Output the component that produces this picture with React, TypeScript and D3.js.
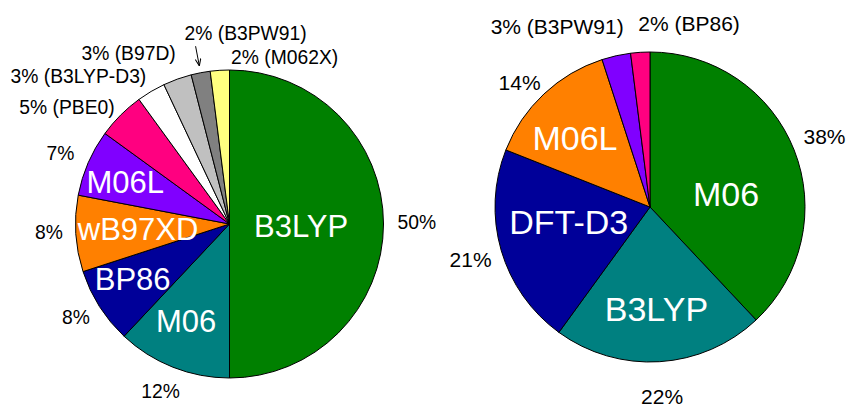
import React, { useEffect, useRef } from "react";
import * as d3 from "d3";

// left pie: all calculations
const leftNames = ["B3LYP", "M06", "BP86", "wB97XD", "M06L", "PBE0", "B3LYP-D3", "B97D", "B3PW91", "M062X"];
const leftValues = [50, 12, 8, 8, 7, 5, 3, 3, 2, 2];
const leftColors = ["#008000", "#008080", "#000099", "#FF8000", "#8000FF", "#FF0080", "#FFFFFF", "#C0C0C0", "#808080", "#FFFF80"];
const leftNameInside = [true, true, true, true, true, false, false, false, false, false];

// right pie: dispersion-corrected subset
const rightNames = ["M06", "B3LYP", "DFT-D3", "M06L", "B3PW91", "BP86"];
const rightValues = [38, 22, 21, 14, 3, 2];
const rightColors = ["#008000", "#008080", "#000099", "#FF8000", "#8000FF", "#FF0080"];
const rightNameInside = [true, true, true, true, false, false];

const FONT = "'Liberation Sans', Arial, Helvetica, sans-serif";

type PieCfg = {
  names: string[];
  values: number[];
  colors: string[];
  inside: boolean[];
  cx: number;
  cy: number;
  r: number;
  outFont: number;
  inFont: number;
  gap: number;
  outNudge: number[][];
  inNudge: number[][];
  arrow: boolean[];
};

const pies: PieCfg[] = [
  {
    names: leftNames, values: leftValues, colors: leftColors, inside: leftNameInside,
    cx: 229.5, cy: 224, r: 154, outFont: 19.3, inFont: 31, gap: 14,
    outNudge: [[0, -2], [0, 2], [0, -2], [1, -3], [-2, 0], [-10, 9], [-31, 5], [-28, -4], [59, -16], [69, 10]],
    inNudge: [[-30, 2], [-6, 2], [-11, 0], [10, -1], [-11, -2]],
    arrow: [false, false, false, false, false, false, false, false, true, false],
  },
  {
    names: rightNames, values: rightValues, colors: rightColors, inside: rightNameInside,
    cx: 650, cy: 207, r: 155, outFont: 21, inFont: 34, gap: 16,
    outNudge: [[-4, -4], [0, 8], [5, 2], [1, 8], [-41, -3], [53, -2]],
    inNudge: [[-19, 24], [0, 0], [17, -14], [-5, 5]],
    arrow: [false, false, false, false, false, false],
  },
];

export default function App() {
  const ref = useRef<SVGSVGElement>(null);

  useEffect(() => {
    const svg = d3.select(ref.current);
    svg.selectAll("*").remove();

    svg.append("defs").append("marker")
      .attr("id", "arr")
      .attr("viewBox", "0 0 10 10")
      .attr("refX", 10).attr("refY", 5)
      .attr("markerWidth", 7).attr("markerHeight", 7)
      .attr("orient", "auto")
      .append("path")
      .attr("d", "M0,1 L10,5 L0,9")
      .attr("fill", "none").attr("stroke", "#000").attr("stroke-width", 1.5);

    pies.forEach((p) => {
      const total = d3.sum(p.values);
      const arcs = d3.pie<number>().sort(null).value((d) => d)(p.values);
      const arc = d3.arc<d3.PieArcDatum<number>>().innerRadius(0).outerRadius(p.r);

      const g = svg.append("g");

      g.selectAll("path.slice")
        .data(arcs)
        .join("path")
        .attr("class", "slice")
        .attr("transform", `translate(${p.cx},${p.cy})`)
        .attr("d", arc)
        .attr("fill", (_, i) => p.colors[i])
        .attr("stroke", "#000")
        .attr("stroke-width", 1);

      // names inside slices
      let k = 0;
      arcs.forEach((a, i) => {
        if (!p.inside[i]) return;
        const mid = (a.startAngle + a.endAngle) / 2;
        const rr = p.r * 0.66;
        const nd = p.inNudge[k++] || [0, 0];
        g.append("text")
          .attr("x", p.cx + Math.sin(mid) * rr + nd[0])
          .attr("y", p.cy - Math.cos(mid) * rr + nd[1] + 0.358 * p.inFont)
          .attr("text-anchor", "middle")
          .attr("font-family", FONT)
          .attr("font-size", p.inFont)
          .attr("fill", "#fff")
          .text(p.names[i]);
      });

      // percentage labels outside
      arcs.forEach((a, i) => {
        const mid = (a.startAngle + a.endAngle) / 2;
        const ux = Math.sin(mid);
        const uy = -Math.cos(mid);
        const R = p.r + p.gap;
        const px = p.cx + ux * R;
        const py = p.cy + uy * R;
        const pct = Math.round((p.values[i] / total) * 100) + "%";
        const label = p.inside[i] ? pct : `${pct} (${p.names[i]})`;
        const t = g.append("text")
          .attr("font-family", FONT)
          .attr("font-size", p.outFont)
          .attr("fill", "#000")
          .text(label);
        const w = (t.node() as SVGTextElement).getComputedTextLength();
        const h = p.outFont;
        const nd = p.outNudge[i] || [0, 0];
        const left = px - w * (1 - ux) / 2 + nd[0];
        const top = py - h * (1 - uy) / 2 + nd[1];
        t.attr("x", left).attr("y", top + h / 2 + 0.358 * p.outFont);

        if (p.arrow[i]) {
          g.append("line")
            .attr("x1", p.cx + ux * (p.r + 27))
            .attr("y1", p.cy + uy * (p.r + 27))
            .attr("x2", p.cx + ux * (p.r + 7))
            .attr("y2", p.cy + uy * (p.r + 7))
            .attr("stroke", "#000")
            .attr("stroke-width", 1)
            .attr("marker-end", "url(#arr)");
        }
      });
    });
  }, []);

  return (
    <svg
      ref={ref}
      width={846}
      height={407}
      style={{ position: "absolute", left: 0, top: 0, background: "#fff" }}
    />
  );
}
